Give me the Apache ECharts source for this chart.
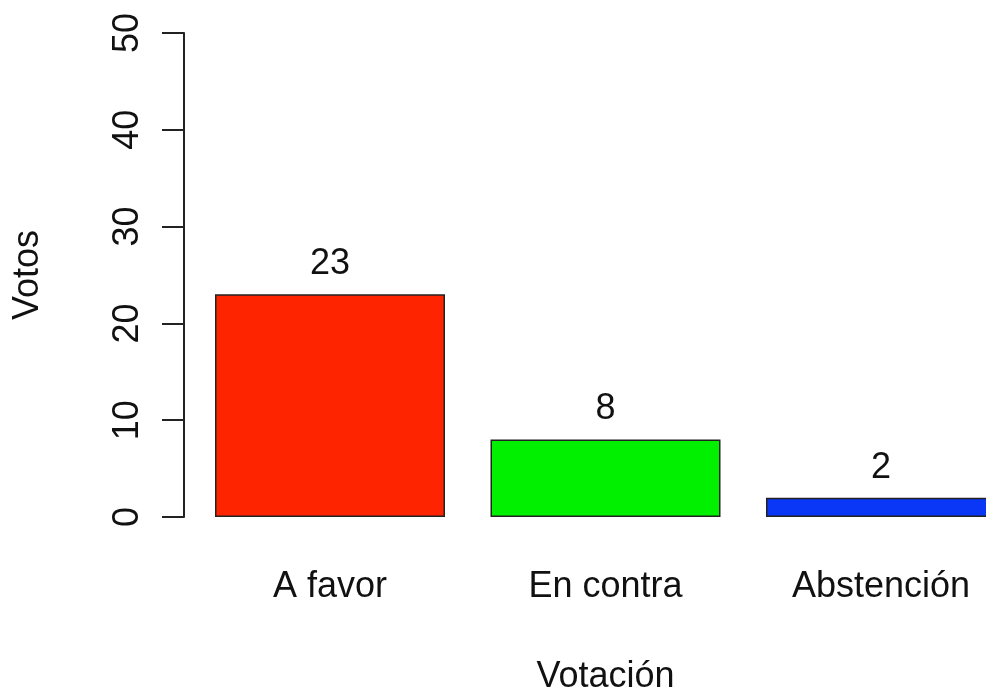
<!DOCTYPE html>
<html>
<head>
<meta charset="utf-8">
<script src="https://cdn.jsdelivr.net/npm/echarts@6/dist/echarts.min.js"></script>
<style>
html,body{margin:0;padding:0;background:#fff;}
#chart{width:986px;height:690px;}
</style>
</head>
<body>
<div id="chart"></div>
<script>
const categories = ["A favor", "En contra", "Abstención"];
const votes = [23, 8, 2];
const barColors = ["#FF2400", "#00F000", "#0A36F5"];
const yTicks = [0, 10, 20, 30, 40, 50];

const FONT = "Liberation Sans, Arial, Helvetica, sans-serif";
const chart = echarts.init(document.getElementById('chart'), null, {renderer: 'canvas'});
chart.setOption({
  backgroundColor: '#ffffff',
  animation: false,
  grid: {left: 192.25, right: -32.75, top: 33, bottom: 173, containLabel: false, outerBoundsMode: 'none'},
  xAxis: {
    type: 'category',
    data: categories,
    boundaryGap: true,
    axisLine: {show: false},
    axisTick: {show: false},
    axisLabel: {color: '#111', fontSize: 36, fontFamily: FONT, margin: 52},
    name: 'Votación',
    nameLocation: 'middle',
    nameGap: 142,
    nameTextStyle: {color: '#111', fontSize: 36, fontFamily: FONT}
  },
  yAxis: {
    type: 'value',
    min: yTicks[0],
    max: yTicks[yTicks.length - 1],
    interval: 10,
    offset: 8.25,
    splitLine: {show: false},
    axisLine: {show: true, lineStyle: {color: '#222', width: 2}},
    axisTick: {show: true, length: 22, lineStyle: {color: '#222', width: 2}},
    axisLabel: {color: '#111', fontSize: 36, fontFamily: FONT, rotate: 90, margin: 38},
    name: 'Votos',
    nameLocation: 'middle',
    nameRotate: 90,
    nameGap: 138,
    nameTextStyle: {color: '#111', fontSize: 36, fontFamily: FONT}
  },
  series: [{
    type: 'bar',
    data: votes.map((v, i) => ({value: v, itemStyle: {color: barColors[i]}})),
    barWidth: 230,
    itemStyle: {borderColor: '#222', borderWidth: 1.5},
    label: {show: true, position: 'top', distance: 12, color: '#111', fontSize: 36, fontFamily: FONT}
  }]
});
</script>
</body>
</html>
